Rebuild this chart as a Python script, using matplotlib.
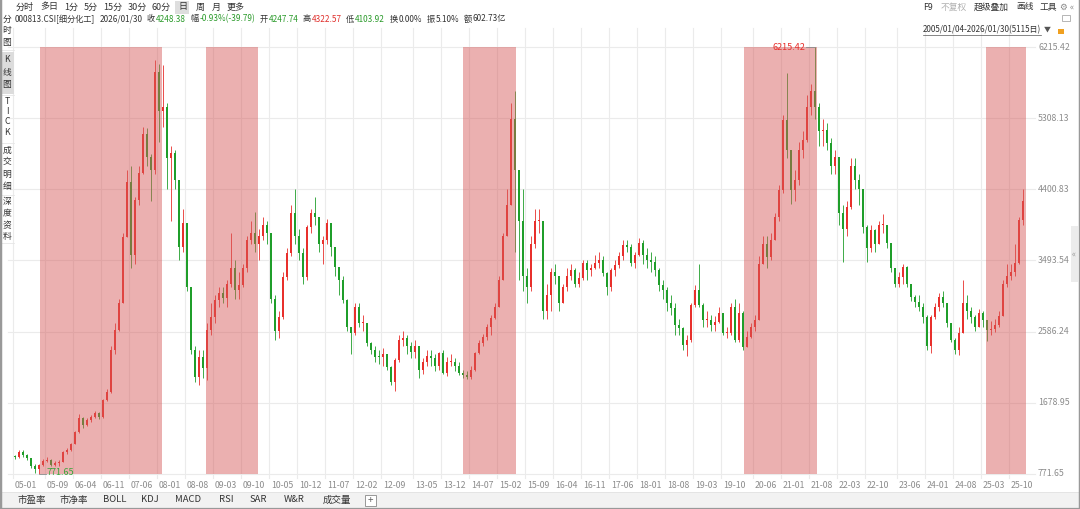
import numpy as np
import matplotlib.pyplot as plt
from matplotlib.patches import Rectangle
from matplotlib.lines import Line2D
from matplotlib.transforms import blended_transform_factory

plt.rcParams['font.family'] = ['Noto Sans CJK SC', 'DejaVu Sans']

# 000813.CSI 细分化工, monthly bars 2005-01 .. 2026-01
closes = [
    990, 1050, 1010, 975, 870, 830, 890, 940, 950, 890, 910, 925,            # 2005
    1050, 1078, 1155, 1307, 1485, 1396, 1460, 1498, 1550, 1498, 1715, 1817,  # 2006
    2350, 2607, 2950, 3793, 4500, 3560, 4265, 4610, 5100, 4810, 4650, 5900,  # 2007
    5400, 5450, 4800, 4860, 4520, 3666, 3970, 3155, 2350, 2008, 2263, 2120,  # 2008
    2607, 2770, 2990, 3080, 3015, 3200, 3400, 3117, 3180, 3400, 3755, 3850,  # 2009
    3700, 3800, 3950, 3850, 3000, 2600, 2770, 3280, 3590, 4100, 3800, 3590,  # 2010
    3280, 3920, 4100, 4050, 3700, 3750, 3970, 3665, 3410, 3250, 2990, 2645,  # 2011
    2570, 2900, 2700, 2700, 2440, 2350, 2263, 2260, 2300, 2135, 1950, 2225,  # 2012
    2480, 2500, 2400, 2330, 2400, 2100, 2200, 2280, 2250, 2150, 2310, 2060,  # 2013
    2200, 2200, 2150, 2060, 2030, 2010, 2100, 2310, 2440, 2520, 2645, 2760,  # 2014
    2900, 3250, 3800, 4200, 5300, 4650, 4000, 3300, 3150, 3700, 4000, 4000,  # 2015
    2850, 3050, 3350, 3300, 2950, 3150, 3300, 3372, 3200, 3270, 3460, 3370,  # 2016
    3400, 3460, 3500, 3335, 3150, 3372, 3435, 3550, 3690, 3665, 3460, 3560,  # 2017
    3720, 3560, 3500, 3475, 3372, 3180, 3117, 2950, 2890, 2670, 2630, 2415,  # 2018
    2480, 2930, 3117, 2930, 2735, 2735, 2670, 2710, 2820, 2570, 2570, 2900,  # 2019
    2480, 2820, 2390, 2520, 2645, 2735, 3450, 3700, 3540, 3755, 4050, 4390,  # 2020
    5285, 4900, 4390, 4520, 4900, 5030, 5450, 5650, 5450, 5150, 5160, 4990,  # 2021
    4700, 4810, 4100, 3900, 4175, 4700, 4520, 4400, 3920, 3650, 3882, 3700,  # 2022
    3950, 3950, 3720, 3400, 3200, 3280, 3410, 3200, 3030, 2965, 2900, 2775,  # 2023
    2400, 2775, 2900, 3030, 2950, 2695, 2480, 2350, 2570, 2950, 2850, 2770,  # 2024
    2645, 2820, 2735, 2610, 2620, 2670, 2780, 3200, 3300, 3350, 3460, 4010,  # 2025
    4248.38,                                                                 # 2026
]
highs = [
    1020, 1080, 1075, 1030, 980, 900, 900, 960, 985, 960, 940, 950,
    1060, 1100, 1170, 1320, 1540, 1500, 1480, 1520, 1570, 1560, 1730, 1850,
    2400, 2700, 3000, 3850, 4650, 4700, 4300, 4700, 5200, 5180, 4850, 6050,
    6000, 5980, 5500, 4950, 4900, 4400, 4150, 3600, 3000, 2400, 2350, 2350,
    2700, 2950, 3050, 3150, 3150, 3250, 3850, 3500, 3350, 3450, 3800, 4000,
    4110, 3900, 4050, 4000, 3800, 3050, 2850, 3350, 3650, 4200, 4400, 3900,
    3650, 3950, 4150, 4300, 4050, 3800, 4020, 3950, 3600, 3350, 3300, 3000,
    2650, 2950, 2950, 2800, 2700, 2450, 2400, 2350, 2380, 2300, 2150, 2250,
    2550, 2600, 2550, 2450, 2480, 2400, 2250, 2350, 2350, 2300, 2330, 2350,
    2260, 2300, 2250, 2200, 2100, 2080, 2150, 2330, 2480, 2560, 2680, 2800,
    2950, 3300, 3850, 4400, 5500, 5650, 4400, 4400, 3400, 3800, 4150, 4150,
    4000, 3200, 3400, 3450, 3300, 3200, 3400, 3450, 3400, 3350, 3500, 3500,
    3450, 3560, 3600, 3550, 3350, 3400, 3500, 3600, 3750, 3750, 3700, 3600,
    3780, 3750, 3650, 3600, 3550, 3400, 3250, 3150, 3050, 2950, 2750, 2650,
    2550, 2950, 3180, 3450, 2950, 2850, 2800, 2780, 2900, 2800, 2650, 2950,
    3000, 2950, 2850, 2600, 2700, 2800, 3550, 3800, 3800, 3850, 4100, 4450,
    5350, 5880, 4800, 4650, 5000, 5150, 5600, 5750, 6215.42, 5500, 5300, 5250,
    5050, 4900, 4800, 4200, 4250, 4800, 4800, 4600, 4350, 3950, 3950, 3900,
    4000, 4080, 3950, 3700, 3400, 3350, 3450, 3420, 3200, 3050, 3050, 2950,
    2800, 2800, 2950, 3080, 3100, 2950, 2700, 2500, 2650, 3250, 3050, 2900,
    2800, 2880, 2850, 2700, 2720, 2750, 2850, 3250, 3450, 3450, 3700, 4050,
    4410,
]
lows = [
    960, 980, 990, 950, 850, 790, 771.65, 870, 920, 870, 870, 880,
    920, 1030, 1060, 1150, 1300, 1360, 1380, 1430, 1480, 1470, 1490, 1700,
    1800, 2300, 2600, 2950, 3800, 3400, 3450, 4200, 4600, 4700, 4250, 4600,
    5000, 5200, 4400, 4000, 4400, 3500, 3600, 3100, 2300, 1950, 1900, 2000,
    1970, 2550, 2700, 2900, 2950, 2900, 3150, 3000, 3000, 3150, 3350, 3700,
    3600, 3500, 3750, 3700, 2950, 2480, 2500, 2750, 3250, 3550, 3700, 3500,
    3200, 3250, 3850, 3950, 3600, 3450, 3700, 3550, 3300, 3050, 2950, 2600,
    2300, 2550, 2650, 2600, 2400, 2300, 2200, 2180, 2150, 2100, 1900, 1830,
    2200, 2400, 2300, 2250, 2250, 2000, 2050, 2150, 2150, 2080, 2100, 2050,
    2020, 2150, 2080, 2030, 1990, 1980, 1980, 2080, 2300, 2400, 2480, 2550,
    2750, 2900, 3250, 3800, 4300, 3600, 3250, 3100, 2950, 3100, 3650, 3850,
    2750, 2750, 2850, 3200, 2850, 2950, 3100, 3250, 3150, 3150, 3250, 3250,
    3300, 3380, 3400, 3300, 3050, 3100, 3300, 3400, 3500, 3600, 3420, 3400,
    3550, 3450, 3400, 3350, 3300, 3100, 3000, 2850, 2800, 2550, 2550, 2350,
    2280, 2450, 2900, 2900, 2650, 2650, 2600, 2600, 2700, 2550, 2500, 2550,
    2450, 2450, 2350, 2400, 2500, 2600, 2750, 3550, 3400, 3500, 3750, 4000,
    4350, 4800, 4220, 4250, 4450, 4800, 5000, 5350, 5300, 4950, 4950, 4900,
    4600, 4600, 3950, 3480, 3800, 4150, 4400, 4200, 3850, 3480, 3600, 3600,
    3700, 3850, 3650, 3350, 3150, 3150, 3200, 3150, 2980, 2900, 2850, 2700,
    2350, 2310, 2750, 2850, 2900, 2650, 2450, 2300, 2290, 2750, 2750, 2700,
    2600, 2650, 2650, 2470, 2550, 2580, 2650, 2800, 3150, 3250, 3300, 3450,
    3950,
]
first_open = 1000

# shaded rallies, in months counted from 2005-01
rallies = [(6.75, 37.25), (48.25, 61.2), (112.6, 125.7), (182.75, 200.9), (243.2, 253.2)]

price_levels = [771.65, 1678.95, 2586.24, 3493.54, 4400.83, 5308.13, 6215.42]
tick_labels = ["05-01", "05-09", "06-04", "06-11", "07-06", "08-01", "08-08", "09-03",
               "09-10", "10-05", "10-12", "11-07", "12-02", "12-09", "13-05", "13-12",
               "14-07", "15-02", "15-09", "16-04", "16-11", "17-06", "18-01", "18-08",
               "19-03", "19-10", "20-06", "21-01", "21-08", "22-03", "22-10", "23-06",
               "24-01", "24-08", "25-03", "25-10"]

# header quote line: (label, value, value colour)
quote = [("000813.CSI[细分化工]", "", None), ("2026/01/30", "", None),
         ("收", "4248.38", '#2a9a2a'), ("幅", "-0.93%(-39.79)", '#2a9a2a'),
         ("开", "4247.74", '#2a9a2a'), ("高", "4322.57", '#e0302c'),
         ("低", "4103.92", '#2a9a2a'), ("换", "0.00%", '#333333'),
         ("振", "5.10%", '#333333'), ("额", "602.73亿", '#333333')]

RED = '#e8302c'
GREEN = '#1f9e2a'
W, H = 1080, 509


def fx(px):
    return px / W


def fy(py):
    return 1 - py / H


fig = plt.figure(figsize=(W / 100, H / 100), dpi=100)
fig.patch.set_facecolor('white')
renderer = fig.canvas.get_renderer()

ax = fig.add_axes([fx(8), fy(474), fx(1032) - fx(8), fy(47) - fy(474)])
ax.set_xlim((8 - 13) / 4, (1032 - 13) / 4)
ax.set_ylim(771.65, 6215.42)
ax.set_axis_off()
bt = blended_transform_factory(ax.transData, ax.transAxes)
rt = blended_transform_factory(ax.transAxes, ax.transData)

# grid
for p in price_levels:
    ax.plot([0, 1.003], [p, p], transform=rt, color='#ebebeb', lw=0.8, zorder=0, clip_on=False)
    ax.text(1.0059, p, f'{p:.2f}', transform=rt, ha='left', va='center',
            fontsize=6.3, color='#8c8c8c')
tick_pos = [(int(t[:2]) - 5) * 12 + int(t[3:]) - 1 for t in tick_labels]
for t, lab in zip(tick_pos, tick_labels):
    ax.plot([t, t], [-0.01, 1.045], transform=bt, color='#ebebeb', lw=0.8, zorder=0, clip_on=False)
    ax.text(t + 0.5, -0.028, lab, transform=bt, ha='left', va='center',
            fontsize=6.3, color='#8c8c8c')

# candles
c = np.array(closes, dtype=float)
o = np.array([first_open] + closes[:-1], dtype=float)
hi = np.maximum(np.array(highs, dtype=float), np.maximum(o, c))
lo = np.minimum(np.array(lows, dtype=float), np.minimum(o, c))
u = np.arange(len(c)) + 0.5
cols = np.where(c >= o, RED, GREEN)
ax.vlines(u, lo, hi, colors=cols, lw=0.6, zorder=2)
ax.bar(u, np.maximum(np.abs(c - o), 12), bottom=np.minimum(o, c), width=0.45,
       color=cols, lw=0, zorder=2)

for a, b in rallies:
    ax.axvspan(a, b, color='#d65a5a', alpha=0.48, lw=0, zorder=3)

# extreme markers
imax = int(np.argmax(hi))
imin = int(np.argmin(lo))
ax.plot([u[imax] - 2.3, u[imax]], [hi[imax]] * 2, color='#8a8a8a', lw=0.6, zorder=4, clip_on=False)
ax.text(u[imax] - 2.5, hi[imax], f'{hi[imax]:.2f}', ha='right', va='center',
        fontsize=6.5, color=RED, zorder=4)
ax.plot([u[imin], u[imin] + 1.8], [lo[imin]] * 2, color='#8a8a8a', lw=0.6, zorder=4, clip_on=False)
ax.text(u[imin] + 2.0, lo[imin] + 25, f'{lo[imin]:.2f}', ha='left', va='center',
        fontsize=6.5, color='#3aa33a', zorder=4)

# top toolbar
tools = [("分时", 16), ("多日", 40), ("1分", 64), ("5分", 84), ("15分", 103), ("30分", 128),
         ("60分", 152), ("日", 178), ("周", 196), ("月", 212), ("更多", 227)]
fig.patches.append(Rectangle((fx(175), fy(14)), fx(14), 13 / H, transform=fig.transFigure,
                             facecolor='#dedede', edgecolor='none'))
for lab, x in tools:
    fig.text(fx(x), fy(7), lab, fontsize=6.5, color='#333333', va='center')

# quote line laid out left to right, spread between x=15 and x=506
items = []
for lab, val, col in quote:
    t1 = fig.text(0, fy(19), lab, fontsize=5.9, color='#333333', va='center')
    t2 = fig.text(0, fy(19), val, fontsize=5.9, color=col or '#333333', va='center')
    w1 = t1.get_window_extent(renderer).width
    w2 = t2.get_window_extent(renderer).width if val else 0
    items.append((t1, t2, w1, w2))
total = sum(w1 + w2 + (1 if w2 else 0) for _, _, w1, w2 in items)
gap = (506 - 15 - total) / (len(items) - 1)
x = 15
for t1, t2, w1, w2 in items:
    t1.set_x(fx(x))
    t2.set_x(fx(x + w1 + 1))
    x += w1 + w2 + (1 if w2 else 0) + gap

right_tools = [("F9", 923, '#333333'), ("不复权", 941, '#b0b0b0'), ("超级叠加", 974, '#333333'),
               ("画线", 1016, '#333333'), ("工具", 1040, '#333333'), ("⚙", 1059, '#888888'),
               ("«", 1070, '#888888')]
for lab, xx, col in right_tools:
    fig.text(fx(xx), fy(7), lab, fontsize=6.3, color=col, va='center')

# date range, right aligned so the arrow and lock fit after it
dr = fig.text(fx(1041), fy(30), "2005/01/04-2026/01/30(5115日)", fontsize=5.8,
              color='#333333', va='center', ha='right')
dr_w = dr.get_window_extent(renderer).width
fig.lines.append(Line2D([fx(1041 - dr_w), fx(1041)], [fy(35), fy(35)], transform=fig.transFigure,
                        color='#555555', lw=0.5))
fig.text(fx(1044), fy(30), "▼", fontsize=5.0, color='#555555', va='center')
fig.patches.append(Rectangle((fx(1058), fy(34)), fx(6), 5 / H, transform=fig.transFigure,
                             facecolor='#f0a020', edgecolor='none'))
fig.patches.append(Rectangle((fx(1062), fy(21)), fx(8), 6 / H, transform=fig.transFigure,
                             facecolor='none', edgecolor='#aaaaaa', lw=0.6))

# left side bar
fig.patches.append(Rectangle((0, fy(94)), fx(14), 42 / H, transform=fig.transFigure,
                             facecolor='#dcdcdc', edgecolor='none'))
side = [("分", 19), ("时", 31), ("图", 43), ("K", 60), ("线", 72), ("图", 84),
        ("T", 101), ("I", 112), ("C", 122), ("K", 133), ("成", 150), ("交", 162), ("明", 174),
        ("细", 186), ("深", 201), ("度", 213), ("资", 225), ("料", 237)]
for ch, y in side:
    fig.text(fx(7), fy(y), ch, fontsize=6.3, color='#333333', ha='center', va='center')
for y in [50, 95, 143, 195, 243]:
    fig.lines.append(Line2D([0, fx(14)], [fy(y), fy(y)], transform=fig.transFigure,
                            color='#e6e6e6', lw=0.6))

# right edge collapse tab
fig.patches.append(Rectangle((fx(1071), fy(282)), fx(7), 56 / H, transform=fig.transFigure,
                             facecolor='#ececec', edgecolor='none'))
fig.text(fx(1074), fy(254), "«", fontsize=6, color='#999999', ha='center', va='center')

# bottom tab bar
fig.patches.append(Rectangle((0, fy(507)), 1, 15 / H, transform=fig.transFigure,
                             facecolor='#f2f2f2', edgecolor='none'))
fig.lines.append(Line2D([0, 1], [fy(492), fy(492)], transform=fig.transFigure,
                        color='#e2e2e2', lw=0.6))
tabs = [("市盈率", 17), ("市净率", 60), ("BOLL", 103), ("KDJ", 141), ("MACD", 175), ("RSI", 219),
        ("SAR", 250), ("W&R", 284), ("成交量", 323)]
for lab, xx in tabs:
    fig.text(fx(xx), fy(500), lab, fontsize=6.8, color='#333333', va='center')
fig.patches.append(Rectangle((fx(365), fy(506)), fx(11), 11 / H, transform=fig.transFigure,
                             facecolor='white', edgecolor='#888888', lw=0.6))
fig.text(fx(370.5), fy(500.5), "+", fontsize=7, color='#666666', ha='center', va='center')

# window border
for xs, ys in [([0, 0], [0, 1]), ([1, 1], [0, 1]), ([0, 1], [0, 0])]:
    fig.lines.append(Line2D(xs, ys, transform=fig.transFigure, color='#999999', lw=2.5))

fig.savefig('out.png', dpi=100)
